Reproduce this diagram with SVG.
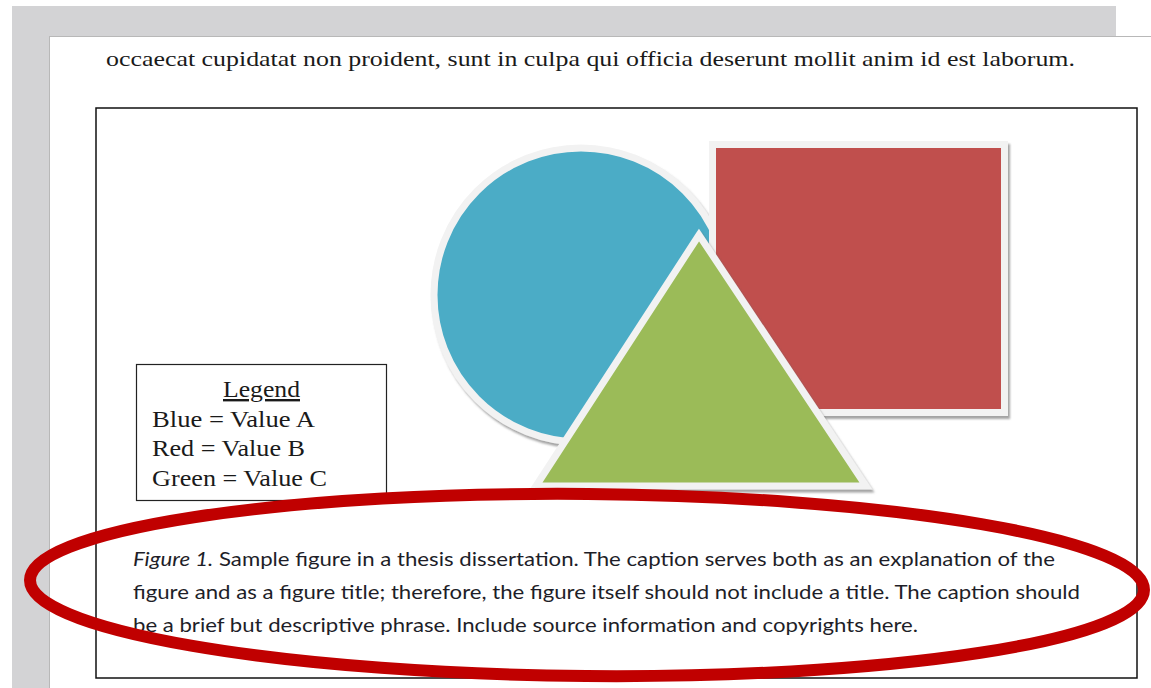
<svg xmlns="http://www.w3.org/2000/svg" width="1151" height="688" viewBox="0 0 1151 688">
<style>
.serif{font-family:"Liberation Serif","Times New Roman",serif;fill:#1a1a1a}
.cap{font-family:Lato,"Open Sans",sans-serif;font-size:20px;fill:#1e1e28}
.shape-border{stroke:#f2f2f2;stroke-width:7;stroke-linejoin:miter}
</style>
<defs>
<filter id="sh" x="-5%" y="-5%" width="115%" height="115%">
<feDropShadow dx="2" dy="3" stdDeviation="1.2" flood-color="#666" flood-opacity="0.6"/>
</filter>
</defs>
<rect x="0" y="0" width="1151" height="688" fill="#ffffff"/>
<rect x="12" y="6" width="1104" height="682" fill="#d3d3d5"/>
<rect x="49.500" y="36.500" width="1102" height="652" fill="#ffffff" stroke="#b8b8b8" stroke-width="1"/>
<text class="serif" x="106" y="66" font-size="22" textLength="969" lengthAdjust="spacingAndGlyphs">occaecat cupidatat non proident, sunt in culpa qui officia deserunt mollit anim id est laborum.</text>
<g id="figure-frame">
<rect x="96" y="108" width="1041" height="570" fill="#ffffff" stroke="#111" stroke-width="1.5"/>
</g>
<g id="circle-blue">
<circle cx="581" cy="295" r="147" fill="#4bacc6" class="shape-border" filter="url(#sh)"/>
</g>
<g id="square-red">
<rect x="712.500" y="144.500" width="292" height="268" fill="#c0504d" class="shape-border" filter="url(#sh)"/>
</g>
<g id="triangle-green">
<polygon points="699,235 536,486 866,486" fill="#9bbb59" class="shape-border" filter="url(#sh)"/>
</g>
<g id="legend">
<rect x="136.500" y="364.500" width="250" height="136" fill="#ffffff" stroke="#222" stroke-width="1.2"/>
<text class="serif" x="223" y="397" font-size="24" textLength="77" lengthAdjust="spacingAndGlyphs" text-decoration="underline">Legend</text>
<text class="serif" x="152" y="427" font-size="24" textLength="163" lengthAdjust="spacingAndGlyphs">Blue = Value A</text>
<text class="serif" x="152" y="456" font-size="24" textLength="153" lengthAdjust="spacingAndGlyphs">Red = Value B</text>
<text class="serif" x="152" y="486" font-size="24" textLength="175" lengthAdjust="spacingAndGlyphs">Green = Value C</text>
</g>
<g id="caption">
<text class="cap" x="133" y="566" textLength="922" lengthAdjust="spacingAndGlyphs"><tspan font-style="italic">Figure 1.</tspan> Sample figure in a thesis dissertation. The caption serves both as an explanation of the</text>
<text class="cap" x="133" y="599" textLength="947" lengthAdjust="spacingAndGlyphs">figure and as a figure title; therefore, the figure itself should not include a title. The caption should</text>
<text class="cap" x="133" y="632" textLength="785" lengthAdjust="spacingAndGlyphs">be a brief but descriptive phrase. Include source information and copyrights here.</text>
</g>
<g id="connectors">
<ellipse cx="587" cy="585" rx="557" ry="91" fill="none" stroke="#c00000" stroke-width="12" transform="rotate(0.5 587 585)"/>
</g>
</svg>
